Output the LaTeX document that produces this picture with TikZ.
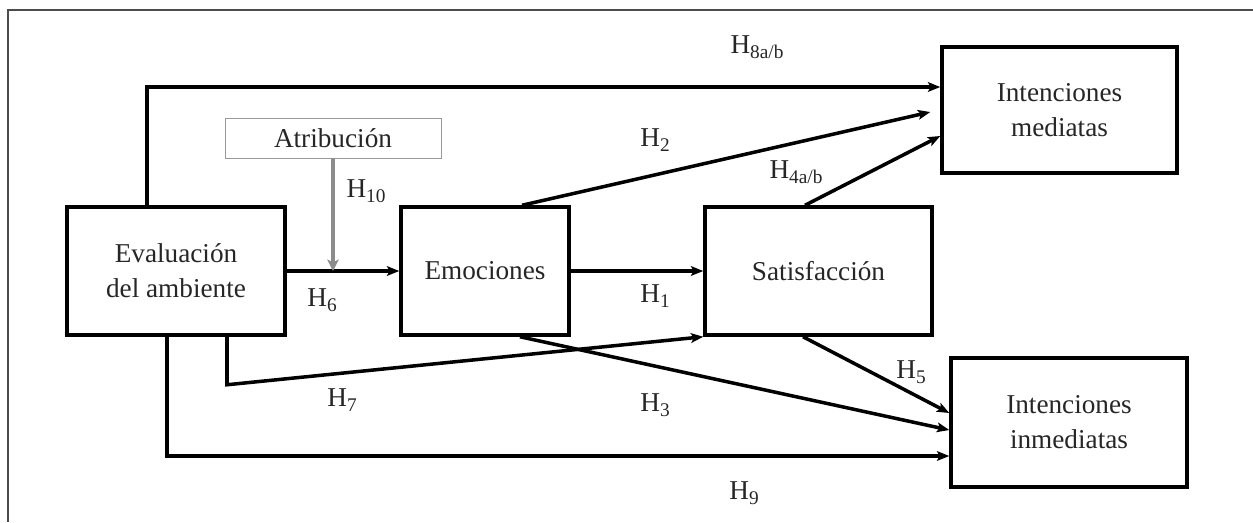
\documentclass[tikz,border=0pt]{standalone}
\usepackage{fontspec}
\setmainfont{Liberation Serif}
\usepackage{tikz}
\usetikzlibrary{arrows.meta}
\newcommand{\hyp}[1]{H\raisebox{-0.4ex}{\fontsize{11}{11}\selectfont #1}}

\begin{document}
\begin{tikzpicture}[x=0.02cm, y=-0.02cm,
    every node/.style={font=\fontsize{15.5}{20}\selectfont, text=black!85},
    varbox/.style={draw, line width=2pt, align=center, inner sep=0pt},
    arr/.style={line width=2pt, -{Stealth[length=7pt, width=5.5pt, inset=1.5pt]}},
    garr/.style={draw=black!45, line width=2.6pt, -{Stealth[length=6.5pt, width=6.5pt, inset=1.5pt]}},
    hlab/.style={inner sep=0pt}]
  \useasboundingbox (0,0) rectangle (1253,522);
  % frame (top and left edge only)
  \draw[black!70, line width=0.6pt] (8,522) -- (8,10) -- (1253,10);

  % variables
  \node[varbox, minimum width=4.36cm, minimum height=2.56cm] (eval) at (176,271) {Evaluación\\del ambiente};
  \node[draw=black!40, line width=0.5pt, minimum width=4.32cm, minimum height=0.8cm, inner sep=0pt] (atrib) at (333,138) {Atribución};
  \node[varbox, minimum width=3.36cm, minimum height=2.56cm] (emoc) at (485,271) {Emociones};
  \node[varbox, minimum width=4.54cm, minimum height=2.56cm] (satis) at (818.5,271) {Satisfacción};
  \node[varbox, minimum width=4.7cm, minimum height=2.52cm] (mediat) at (1059.5,110) {Intenciones\\mediatas};
  \node[varbox, minimum width=4.72cm, minimum height=2.58cm] (inmed) at (1069,422.5) {Intenciones\\inmediatas};

  % paths
  \draw[arr] ([xshift=-0.58cm]eval.north) |- ([yshift=0.46cm]mediat.west);
  \draw[arr] (eval.east) -- (emoc.west);
  \draw[arr] (emoc.east) -- (satis.west);
  \draw[arr] ([xshift=0.74cm]emoc.north) -- ([xshift=-0.2cm, yshift=-0.04cm]mediat.west);
  \draw[arr] ([xshift=-0.27cm]satis.north) -- ([yshift=-0.52cm]mediat.west);
  \draw[arr] ([xshift=1.02cm]eval.south) -- ++(0,48) -- (satis.south west);
  \draw[arr] ([xshift=0.7cm]emoc.south) -- ([yshift=-0.15cm]inmed.west);
  \draw[arr] ([xshift=-0.31cm]satis.south) -- ([yshift=0.19cm]inmed.west);
  \draw[arr] ([xshift=-0.18cm]eval.south) |- ([yshift=-0.67cm]inmed.west);
  \draw[garr] (atrib.south) -- (atrib.south |- eval.east);

  % hypotheses
  \node[hlab] (h1) at (655,296) {\hyp{1}};
  \node[hlab] (h2) at (655,140) {\hyp{2}};
  \node[hlab] (h3) at (655,405) {\hyp{3}};
  \node[hlab] (h4) at (796,172) {\hyp{4a/b}};
  \node[hlab] (h5) at (911,372) {\hyp{5}};
  \node[hlab] (h6) at (322,300) {\hyp{6}};
  \node[hlab] (h7) at (342,400) {\hyp{7}};
  \node[hlab] (h8) at (757,47) {\hyp{8a/b}};
  \node[hlab] (h9) at (744,493) {\hyp{9}};
  \node[hlab] (h10) at (366,191) {\hyp{10}};
\end{tikzpicture}
\end{document}
